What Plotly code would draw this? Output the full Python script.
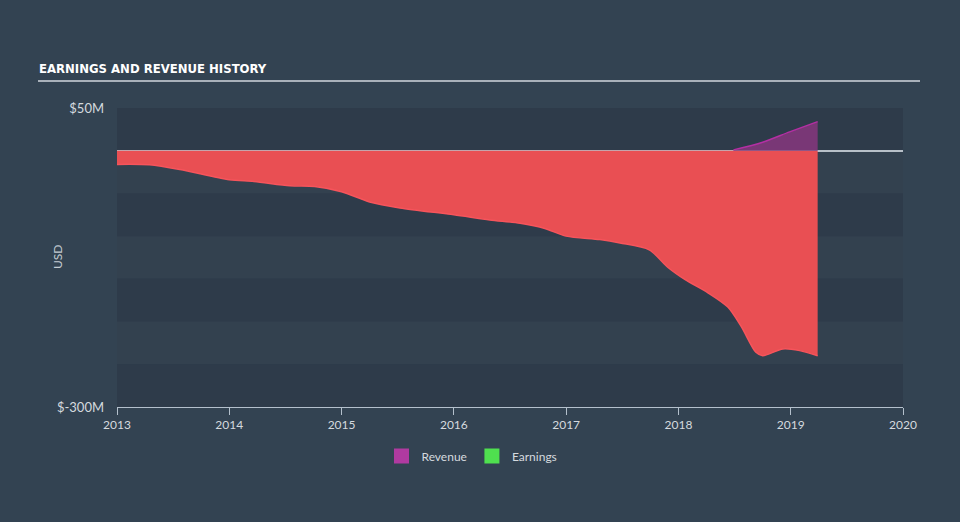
import plotly.graph_objects as go

# Data (decimal years, values in $M)
earn_x = [2013.0, 2013.29, 2013.56, 2014.0, 2014.22, 2014.54, 2014.76, 2015.0, 2015.25,
          2015.52, 2016.0, 2016.32, 2016.59, 2016.81, 2017.0, 2017.3, 2017.48, 2017.74,
          2017.91, 2018.06, 2018.26, 2018.44, 2018.56, 2018.69, 2018.75, 2018.93, 2019.08, 2019.24]
earn_y = [-16, -16.5, -22, -34, -36, -41, -42, -48, -60,
          -67, -75, -81, -85, -91, -100, -104, -108, -116,
          -137, -151, -166, -183, -206, -236, -240, -232, -234, -240]
rev_x = [2018.49, 2018.75, 2018.99, 2019.24]
rev_y = [1, 10, 22, 34]
band_edges = [50, 0, -50, -100, -150, -200, -250, -300]
x_ticks = [2013, 2014, 2015, 2016, 2017, 2018, 2019, 2020]
y_ticks = [50, -300]
y_tick_text = ["$50M", "$-300M"]

L, R, T, B = 117, 903, 108, 407
W = R - L
H = B - T

def px_x(p):
    return (p - L) / W

def px_y(p):
    return (B - p) / H

FONT = "Lato, 'Noto Sans', sans-serif"

fig = go.Figure()

fig.add_trace(go.Scatter(x=earn_x, y=earn_y, mode="lines", fill="tozeroy",
                         line=dict(color="#f6545b", width=1.5, shape="spline", smoothing=0.8),
                         fillcolor="#e94f53", showlegend=False, hoverinfo="skip"))
fig.add_trace(go.Scatter(x=rev_x, y=rev_y, mode="lines", fill="tozeroy",
                         line=dict(color="#b42fa4", width=1.5, shape="spline", smoothing=0.8),
                         fillcolor="rgba(125,55,120,0.95)", showlegend=False, hoverinfo="skip"))

fig.add_trace(go.Scatter(x=[None], y=[None], mode="markers", name="Revenue",
                         marker=dict(symbol="square", size=15, color="#b03aa0")))
fig.add_trace(go.Scatter(x=[None], y=[None], mode="markers", name="Earnings",
                         marker=dict(symbol="square", size=15, color="#4fe04f")))

shapes = []
for i in range(len(band_edges) - 1):
    col = "#2e3b4a" if i % 2 == 0 else "#33414f"
    shapes.append(dict(type="rect", xref="paper", yref="y", x0=0, x1=1,
                       y0=band_edges[i + 1], y1=band_edges[i], fillcolor=col,
                       line=dict(width=0), layer="below"))
# title underline
shapes.append(dict(type="line", xref="paper", yref="paper",
                   x0=px_x(38), x1=px_x(920), y0=px_y(81), y1=px_y(81),
                   line=dict(color="#a9b1ba", width=2)))

fig.update_layout(
    width=960, height=522,
    margin=dict(l=L, r=960 - R, t=T, b=522 - B),
    paper_bgcolor="#334352",
    plot_bgcolor="#2f3c4b",
    shapes=shapes,
    showlegend=True,
    legend=dict(orientation="h", x=px_x(472), xanchor="center",
                y=px_y(456), yanchor="middle",
                font=dict(family=FONT, size=12, color="#d5dadf"),
                bgcolor="rgba(0,0,0,0)"),
    annotations=[
        dict(text="<b>EARNINGS AND REVENUE HISTORY</b>", xref="paper", yref="paper",
             x=px_x(37), y=px_y(68), xanchor="left", yanchor="middle",
             showarrow=False,
             font=dict(family="'DejaVu Sans Condensed', 'Liberation Sans Narrow', sans-serif",
                       size=13, color="#ffffff")),
        dict(text="USD", xref="paper", yref="paper", x=px_x(57), y=px_y(257),
             xanchor="center", yanchor="middle", textangle=-90, showarrow=False,
             font=dict(family=FONT, size=12, color="#c5ccd3")),
    ],
    xaxis=dict(range=[2013, 2020], tickvals=x_ticks, ticktext=[str(v) for v in x_ticks],
               showgrid=False, zeroline=False, showline=True, linecolor="#b4c0cc",
               linewidth=1, ticks="outside", ticklen=7, tickcolor="#b4c0cc",
               tickfont=dict(family=FONT, size=12, color="#d5dadf")),
    yaxis=dict(range=[-300, 50], tickvals=y_ticks, ticktext=y_tick_text,
               showgrid=False, zeroline=True, zerolinecolor="#b8c0c8", zerolinewidth=1.5,
               showline=False, ticks="", ticklabelstandoff=12,
               tickfont=dict(family=FONT, size=13, color="#d5dadf")),
)

fig.write_html("out.html", config={"displayModeBar": False},
               post_script="document.body.style.margin='0';")
